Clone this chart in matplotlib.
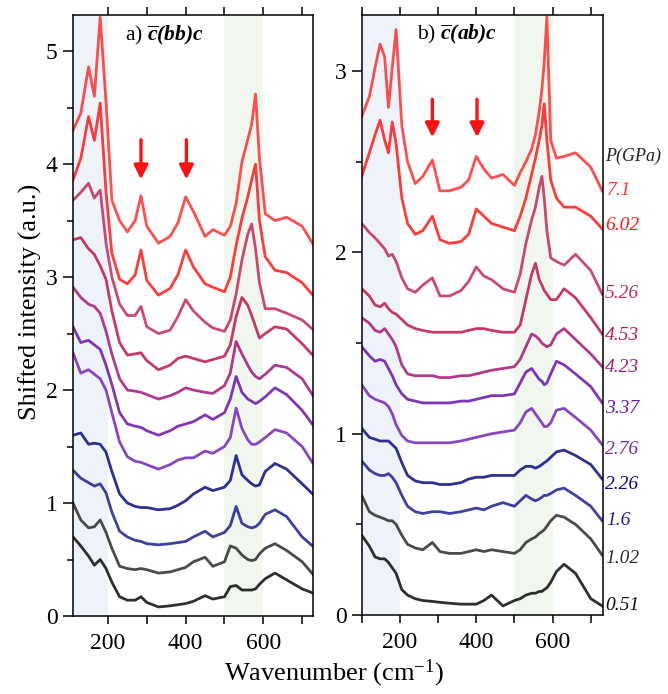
import matplotlib
matplotlib.use('Agg')
import matplotlib.pyplot as plt
from matplotlib.ticker import MultipleLocator

plt.rcParams['font.family'] = 'Liberation Serif'
plt.rcParams['mathtext.fontset'] = 'custom'
plt.rcParams['mathtext.rm'] = 'Liberation Serif'
plt.rcParams['mathtext.it'] = 'Liberation Serif:italic'
plt.rcParams['mathtext.bf'] = 'Liberation Serif:bold:italic'

# DATA (shifted intensities)
pressures = ['0.51', '1.02', '1.6', '2.26', '2.76', '3.37', '4.23', '4.53', '5.26', '6.02', '7.1']
colors = ['#0a0a0a', '#2b2b2b', '#1e1e8e', '#0c0c80', '#7526b8', '#6a12aa',
          '#a3187a', '#c0164e', '#c22a5c', '#ff1a1a', '#ff3030']

# panel a: c(bb)c
wn_a = [110, 130, 150, 165, 180, 195, 210, 230, 250, 270, 285, 300, 330, 360, 380, 400,
        420, 450, 470, 500, 515, 530, 545, 560, 570, 580, 590, 605, 630, 660, 700, 730]
bb_051 = [0.70, 0.62, 0.53, 0.45, 0.50, 0.42, 0.30, 0.17, 0.14, 0.14, 0.17, 0.12, 0.08, 0.09, 0.10, 0.11,
          0.13, 0.18, 0.15, 0.17, 0.26, 0.27, 0.23, 0.23, 0.23, 0.24, 0.28, 0.33, 0.38, 0.32, 0.24, 0.20]
bb_102 = [1.00, 0.85, 0.78, 0.79, 0.85, 0.74, 0.60, 0.44, 0.42, 0.41, 0.42, 0.41, 0.38, 0.39, 0.41, 0.43,
          0.48, 0.52, 0.44, 0.48, 0.62, 0.60, 0.54, 0.50, 0.49, 0.50, 0.55, 0.60, 0.64, 0.58, 0.48, 0.36]
bb_16 = [1.29, 1.22, 1.18, 1.15, 1.17, 1.09, 0.92, 0.75, 0.70, 0.67, 0.66, 0.64, 0.63, 0.64, 0.65, 0.66,
         0.70, 0.75, 0.70, 0.74, 0.80, 0.97, 0.82, 0.79, 0.78, 0.79, 0.82, 0.90, 0.94, 0.88, 0.70, 0.61]
bb_226 = [1.60, 1.62, 1.52, 1.53, 1.52, 1.45, 1.28, 1.08, 1.00, 0.97, 0.96, 0.96, 0.94, 0.95, 0.98, 1.02,
          1.08, 1.14, 1.11, 1.14, 1.20, 1.42, 1.25, 1.20, 1.17, 1.15, 1.16, 1.28, 1.35, 1.30, 1.17, 1.07]
bb_276 = [2.33, 2.15, 2.18, 2.14, 2.10, 2.00, 1.80, 1.54, 1.41, 1.37, 1.36, 1.34, 1.30, 1.34, 1.38, 1.40,
          1.40, 1.46, 1.44, 1.50, 1.58, 1.84, 1.66, 1.56, 1.52, 1.52, 1.54, 1.58, 1.65, 1.62, 1.50, 1.34]
bb_337 = [2.56, 2.42, 2.44, 2.40, 2.36, 2.22, 2.05, 1.80, 1.70, 1.68, 1.67, 1.64, 1.60, 1.64, 1.68, 1.70,
          1.72, 1.78, 1.74, 1.80, 1.92, 2.12, 1.98, 1.92, 1.90, 1.88, 1.90, 1.94, 2.02, 1.96, 1.82, 1.68]
bb_423 = [2.91, 2.82, 2.76, 2.74, 2.68, 2.52, 2.32, 2.10, 2.00, 1.99, 1.98, 1.96, 1.92, 1.95, 1.98, 2.02,
          2.00, 1.98, 1.97, 2.04, 2.15, 2.43, 2.32, 2.22, 2.16, 2.12, 2.10, 2.14, 2.22, 2.20, 2.10, 1.94]
bb_453 = [3.33, 3.35, 3.25, 3.20, 3.10, 2.98, 2.70, 2.42, 2.31, 2.32, 2.33, 2.26, 2.18, 2.22, 2.28, 2.30,
          2.28, 2.25, 2.27, 2.30, 2.40, 2.65, 2.82, 2.75, 2.66, 2.56, 2.46, 2.50, 2.56, 2.54, 2.41, 2.30]
bb_526 = [3.68, 3.75, 3.83, 3.70, 3.77, 3.30, 3.00, 2.76, 2.66, 2.66, 2.74, 2.56, 2.50, 2.53, 2.65, 2.80,
          2.70, 2.60, 2.55, 2.52, 2.62, 2.85, 3.15, 3.38, 3.47, 3.25, 2.95, 2.72, 2.72, 2.68, 2.62, 2.53]
bb_602 = [3.86, 4.05, 4.42, 4.21, 4.54, 3.75, 3.21, 2.98, 2.94, 3.02, 3.24, 2.97, 2.84, 2.90, 3.02, 3.24,
          3.09, 2.94, 2.91, 2.87, 3.00, 3.28, 3.52, 3.71, 3.86, 4.00, 3.50, 3.18, 3.06, 3.04, 2.95, 2.83]
bb_71 = [4.30, 4.45, 4.86, 4.60, 5.30, 4.55, 3.68, 3.50, 3.40, 3.50, 3.72, 3.45, 3.30, 3.36, 3.48, 3.71,
         3.58, 3.36, 3.42, 3.37, 3.45, 3.65, 4.02, 4.22, 4.35, 4.62, 4.05, 3.56, 3.50, 3.53, 3.45, 3.28]

# panel b: c(ab)c
wn_b = [100, 120, 135, 148, 160, 170, 180, 190, 205, 220, 240, 260, 285, 305, 330, 360, 380, 400,
        420, 440, 470, 500, 515, 530, 545, 555, 565, 572, 578, 585, 595, 610, 630, 660, 700, 730]
ab_051 = [0.44, 0.38, 0.32, 0.31, 0.31, 0.29, 0.26, 0.23, 0.14, 0.11, 0.09, 0.08, 0.075, 0.07, 0.065, 0.06, 0.06, 0.06,
          0.08, 0.11, 0.05, 0.08, 0.09, 0.11, 0.12, 0.12, 0.13, 0.13, 0.14, 0.15, 0.18, 0.24, 0.28, 0.23, 0.09, 0.05]
ab_102 = [0.66, 0.57, 0.55, 0.54, 0.53, 0.52, 0.52, 0.50, 0.44, 0.39, 0.37, 0.36, 0.40, 0.35, 0.34, 0.34, 0.35, 0.36,
          0.35, 0.36, 0.35, 0.34, 0.36, 0.40, 0.42, 0.43, 0.45, 0.46, 0.47, 0.49, 0.52, 0.55, 0.54, 0.50, 0.42, 0.33]
ab_16 = [0.85, 0.80, 0.78, 0.77, 0.77, 0.78, 0.76, 0.73, 0.66, 0.60, 0.57, 0.56, 0.57, 0.57, 0.56, 0.57, 0.58, 0.59,
         0.58, 0.60, 0.62, 0.60, 0.63, 0.66, 0.64, 0.63, 0.64, 0.65, 0.66, 0.66, 0.67, 0.69, 0.70, 0.66, 0.60, 0.52]
ab_226 = [1.03, 0.98, 0.97, 0.96, 0.96, 0.96, 0.94, 0.92, 0.84, 0.77, 0.74, 0.73, 0.73, 0.72, 0.72, 0.73, 0.75, 0.76,
          0.76, 0.77, 0.77, 0.77, 0.80, 0.82, 0.82, 0.81, 0.82, 0.83, 0.84, 0.85, 0.87, 0.90, 0.91, 0.88, 0.83, 0.75]
ab_276 = [1.27, 1.21, 1.19, 1.18, 1.17, 1.15, 1.11, 1.05, 0.99, 0.96, 0.95, 0.95, 0.95, 0.95, 0.95, 0.96, 0.97, 0.98,
          0.99, 1.00, 1.01, 1.02, 1.06, 1.12, 1.14, 1.11, 1.08, 1.06, 1.04, 1.04, 1.06, 1.13, 1.14, 1.09, 1.02, 0.94]
ab_337 = [1.48, 1.43, 1.40, 1.41, 1.40, 1.36, 1.32, 1.27, 1.22, 1.19, 1.18, 1.17, 1.17, 1.17, 1.17, 1.18, 1.18, 1.19,
          1.20, 1.21, 1.21, 1.22, 1.28, 1.34, 1.36, 1.33, 1.30, 1.29, 1.27, 1.28, 1.33, 1.40, 1.38, 1.33, 1.26, 1.17]
ab_423 = [1.64, 1.61, 1.57, 1.56, 1.58, 1.55, 1.52, 1.48, 1.38, 1.33, 1.32, 1.32, 1.32, 1.31, 1.31, 1.32, 1.32, 1.33,
          1.34, 1.35, 1.36, 1.37, 1.41, 1.48, 1.55, 1.54, 1.52, 1.50, 1.49, 1.48, 1.49, 1.55, 1.58, 1.52, 1.44, 1.37]
ab_453 = [1.80, 1.76, 1.71, 1.70, 1.72, 1.69, 1.67, 1.66, 1.63, 1.60, 1.58, 1.57, 1.56, 1.56, 1.56, 1.56, 1.57, 1.58,
          1.58, 1.57, 1.56, 1.56, 1.60, 1.74, 1.88, 1.94, 1.85, 1.82, 1.79, 1.77, 1.74, 1.74, 1.80, 1.75, 1.64, 1.55]
ab_526 = [2.16, 2.11, 2.08, 2.05, 2.02, 1.98, 1.99, 1.95, 1.86, 1.80, 1.78, 1.82, 1.86, 1.76, 1.76, 1.79, 1.84, 1.92,
          1.87, 1.85, 1.80, 1.78, 1.88, 2.05, 2.18, 2.25, 2.36, 2.42, 2.30, 2.12, 1.97, 1.95, 1.93, 1.99, 1.90, 1.77]
ab_602 = [2.42, 2.55, 2.65, 2.73, 2.62, 2.55, 2.72, 2.60, 2.30, 2.16, 2.10, 2.12, 2.20, 2.07, 2.05, 2.06, 2.10, 2.24,
          2.20, 2.16, 2.14, 2.12, 2.20, 2.30, 2.43, 2.52, 2.62, 2.70, 2.82, 2.62, 2.40, 2.30, 2.25, 2.25, 2.20, 2.13]
ab_71 = [2.75, 2.86, 3.02, 3.15, 3.08, 2.80, 3.02, 3.23, 2.70, 2.50, 2.38, 2.42, 2.51, 2.34, 2.34, 2.36, 2.40, 2.53,
         2.46, 2.41, 2.43, 2.37, 2.44, 2.50, 2.57, 2.65, 2.78, 2.90, 3.05, 3.30, 2.62, 2.52, 2.53, 2.55, 2.47, 2.34]

curves_a = [bb_051, bb_102, bb_16, bb_226, bb_276, bb_337, bb_423, bb_453, bb_526, bb_602, bb_71]
curves_b = [ab_051, ab_102, ab_16, ab_226, ab_276, ab_337, ab_423, ab_453, ab_526, ab_602, ab_71]

# FIGURE
fig = plt.figure(figsize=(6.68, 6.94), dpi=100)
ax_a = fig.add_axes([0.1093, 0.1124, 0.3593, 0.866])
ax_b = fig.add_axes([0.5415, 0.1138, 0.3612, 0.8646])


def style_axes(ax, xlim, ylim):
    ax.set_xlim(*xlim)
    ax.set_ylim(*ylim)
    ax.axvspan(xlim[0], 200, color='#eef3fa', zorder=0, lw=0)
    ax.axvspan(500, 600, color='#f1f6ee', zorder=0, lw=0)
    ax.xaxis.set_major_locator(MultipleLocator(200))
    ax.xaxis.set_minor_locator(MultipleLocator(100))
    ax.yaxis.set_major_locator(MultipleLocator(1))
    ax.yaxis.set_minor_locator(MultipleLocator(0.5))
    ax.tick_params(axis='x', which='both', direction='out', top=True, bottom=True,
                   length=6, width=1.1, labelsize=17, pad=6)
    ax.tick_params(axis='y', which='major', direction='out', length=7, width=1.1, labelsize=17, pad=4)
    ax.tick_params(axis='y', which='minor', direction='out', length=4, width=1.1)
    for sp in ax.spines.values():
        sp.set_linewidth(1.1)


style_axes(ax_a, (110, 728), (0, 5.32))
style_axes(ax_b, (100, 732), (0, 3.31))

for ys, c in zip(curves_a, colors):
    ax_a.plot(wn_a, ys, color=c, lw=2.0, alpha=0.85, zorder=2, solid_joinstyle='round')
for ys, c in zip(curves_b, colors):
    ax_b.plot(wn_b, ys, color=c, lw=2.0, alpha=0.85, zorder=2, solid_joinstyle='round')

# red arrows on the new modes
arrow_kw = dict(arrowstyle='-|>', color='#ff1010', lw=2.4, mutation_scale=21)
for xw in (285, 402):
    ax_a.annotate('', xy=(xw, 3.84), xytext=(xw, 4.24), arrowprops=arrow_kw)
    ax_b.annotate('', xy=(xw, 2.62), xytext=(xw, 2.86), arrowprops=arrow_kw)

ax_a.text(0.215, 0.967, r'a) $\mathbf{\overline{c}(bb)c}$', transform=ax_a.transAxes,
          fontsize=15.5, va='center', ha='left')
ax_b.text(0.23, 0.967, r'b) $\mathbf{\overline{c}(ab)c}$', transform=ax_b.transAxes,
          fontsize=15.5, va='center', ha='left')

# pressure labels at right of panel b
label_y = [0.055, 0.314, 0.524, 0.722, 0.915, 1.142, 1.368, 1.544, 1.776, 2.15, 2.34]
for p, yy, c in zip(pressures, label_y, colors):
    xoff = 741 if p in ('1.6', '7.1') else 737
    ax_b.text(xoff, yy, p, color=c, fontsize=14, style='italic', va='center', ha='left',
              clip_on=False)
ax_b.text(737, 2.53, 'P(GPa)', color='#222222', fontsize=13, style='italic', va='center',
          ha='left', clip_on=False)

fig.text(0.045, 0.565, 'Shifted intensity (a.u.)', rotation=90, fontsize=19,
         va='center', ha='center')
fig.text(0.5, 0.03, r'Wavenumber (cm$^{-1}$)', fontsize=19, va='center', ha='center')

fig.savefig('out.png', dpi=100)
